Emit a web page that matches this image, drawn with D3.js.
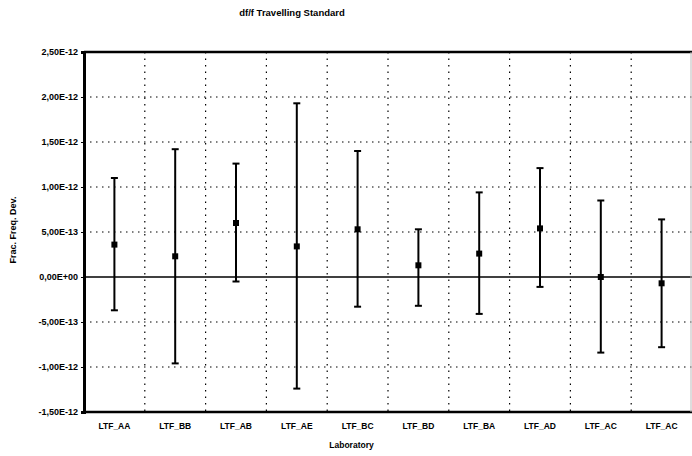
<!DOCTYPE html>
<html>
<head>
<meta charset="utf-8">
<script src="https://cdn.jsdelivr.net/npm/d3@7"></script>
<style>
  body { margin: 0; background: #fff; }
  text { font-family: "Liberation Sans", Arial, sans-serif; font-weight: bold; }
</style>
</head>
<body>
<div id="chart"></div>
<script>
// chart data
const labs = ["LTF_AA", "LTF_BB", "LTF_AB", "LTF_AE", "LTF_BC", "LTF_BD", "LTF_BA", "LTF_AD", "LTF_AC", "LTF_AC "]
const devValues = [3.6e-13, 2.3e-13, 6.0e-13, 3.4e-13, 5.3e-13, 1.3e-13, 2.6e-13, 5.4e-13, 0.0, -0.7e-13]
const lowValues = [-3.7e-13, -9.6e-13, -0.5e-13, -12.4e-13, -3.3e-13, -3.2e-13, -4.1e-13, -1.1e-13, -8.4e-13, -7.8e-13]
const highValues = [11.0e-13, 14.2e-13, 12.6e-13, 19.3e-13, 14.0e-13, 5.3e-13, 9.4e-13, 12.1e-13, 8.5e-13, 6.4e-13]
const yTicks = [2.5e-12, 2.0e-12, 1.5e-12, 1.0e-12, 5e-13, 0, -5e-13, -1.0e-12, -1.5e-12]

const W = 692, H = 456
const margin = {top: 52, right: 0, bottom: 44, left: 84}
const width = W - margin.left - margin.right
const height = H - margin.top - margin.bottom

const svg = d3.select("#chart").append("svg")
  .attr("width", W).attr("height", H)

const g = svg.append("g")
  .attr("transform", `translate(${margin.left},${margin.top})`)

const x = d3.scaleBand().domain(labs).range([0, width])
const y = d3.scaleLinear().domain([-1.5e-12, 2.5e-12]).range([height, 0])

// tick format like 2,50E-12
const fmt = v => {
  const [m, e] = v.toExponential(2).split("e")
  const sign = e[0]
  const digits = e.slice(1).padStart(2, "0")
  return m.replace(".", ",") + "E" + sign + digits
}

// dotted grid
g.selectAll(".hgrid").data(yTicks.filter(d => d !== 0 && d !== 2.5e-12 && d !== -1.5e-12))
  .join("line").attr("class", "hgrid")
  .attr("x1", 0).attr("x2", width)
  .attr("y1", d => y(d)).attr("y2", d => y(d))
  .attr("stroke", "#000").attr("stroke-width", 1.2).attr("stroke-dasharray", "1.5,4.5")

g.selectAll(".vgrid").data(labs.slice(1))
  .join("line").attr("class", "vgrid")
  .attr("x1", d => x(d)).attr("x2", d => x(d))
  .attr("y1", 0).attr("y2", height)
  .attr("stroke", "#000").attr("stroke-width", 1.2).attr("stroke-dasharray", "1.5,5")

// zero line
g.append("line")
  .attr("x1", 0).attr("x2", width)
  .attr("y1", y(0)).attr("y2", y(0))
  .attr("stroke", "#000").attr("stroke-width", 1.3)

// frame
g.append("line").attr("x1", 0).attr("x2", width).attr("y1", 0).attr("y2", 0)
  .attr("stroke", "#000").attr("stroke-width", 2.5)
g.append("line").attr("x1", 0).attr("x2", width).attr("y1", height).attr("y2", height)
  .attr("stroke", "#000").attr("stroke-width", 2.5)
g.append("line").attr("x1", width - 1).attr("x2", width - 1).attr("y1", 0).attr("y2", height)
  .attr("stroke", "#bbb").attr("stroke-width", 1)

// y axis
const yAxis = g.append("g")
  .call(d3.axisLeft(y).tickValues(yTicks).tickFormat(fmt).tickSize(3).tickPadding(3))
yAxis.select(".domain").attr("stroke-width", 3)
yAxis.selectAll("text").attr("font-size", 9).attr("fill", "#000")

// x axis labels
const xAxis = g.append("g")
  .attr("transform", `translate(0,${height})`)
  .call(d3.axisBottom(x).tickSize(0).tickPadding(11))
xAxis.select(".domain").remove()
xAxis.selectAll("text").attr("font-size", 8.5).attr("fill", "#000")

// error bars
const data = labs.map((lab, i) => ({lab, v: devValues[i], lo: lowValues[i], hi: highValues[i]}))
const cx = d => x(d.lab) + x.bandwidth() / 2

g.selectAll(".bar").data(data).join("line").attr("class", "bar")
  .attr("x1", cx).attr("x2", cx)
  .attr("y1", d => y(d.lo)).attr("y2", d => y(d.hi))
  .attr("stroke", "#000").attr("stroke-width", 2)

g.selectAll(".capHi").data(data).join("line").attr("class", "capHi")
  .attr("x1", d => cx(d) - 3.5).attr("x2", d => cx(d) + 3.5)
  .attr("y1", d => y(d.hi)).attr("y2", d => y(d.hi))
  .attr("stroke", "#000").attr("stroke-width", 2)

g.selectAll(".capLo").data(data).join("line").attr("class", "capLo")
  .attr("x1", d => cx(d) - 3.5).attr("x2", d => cx(d) + 3.5)
  .attr("y1", d => y(d.lo)).attr("y2", d => y(d.lo))
  .attr("stroke", "#000").attr("stroke-width", 2)

g.selectAll(".pt").data(data).join("rect").attr("class", "pt")
  .attr("x", d => cx(d) - 3).attr("y", d => y(d.v) - 3)
  .attr("width", 6).attr("height", 6)
  .attr("fill", "#000")

// titles
svg.append("text")
  .attr("x", 292).attr("y", 16)
  .attr("text-anchor", "middle").attr("font-size", 9.5)
  .text("df/f Travelling Standard")

svg.append("text")
  .attr("x", margin.left + width * 0.44).attr("y", 448)
  .attr("text-anchor", "middle").attr("font-size", 8.5)
  .text("Laboratory")

svg.append("text")
  .attr("transform", `translate(16,230) rotate(-90)`)
  .attr("text-anchor", "middle").attr("font-size", 9)
  .text("Frac. Freq. Dev.")
</script>
</body>
</html>
